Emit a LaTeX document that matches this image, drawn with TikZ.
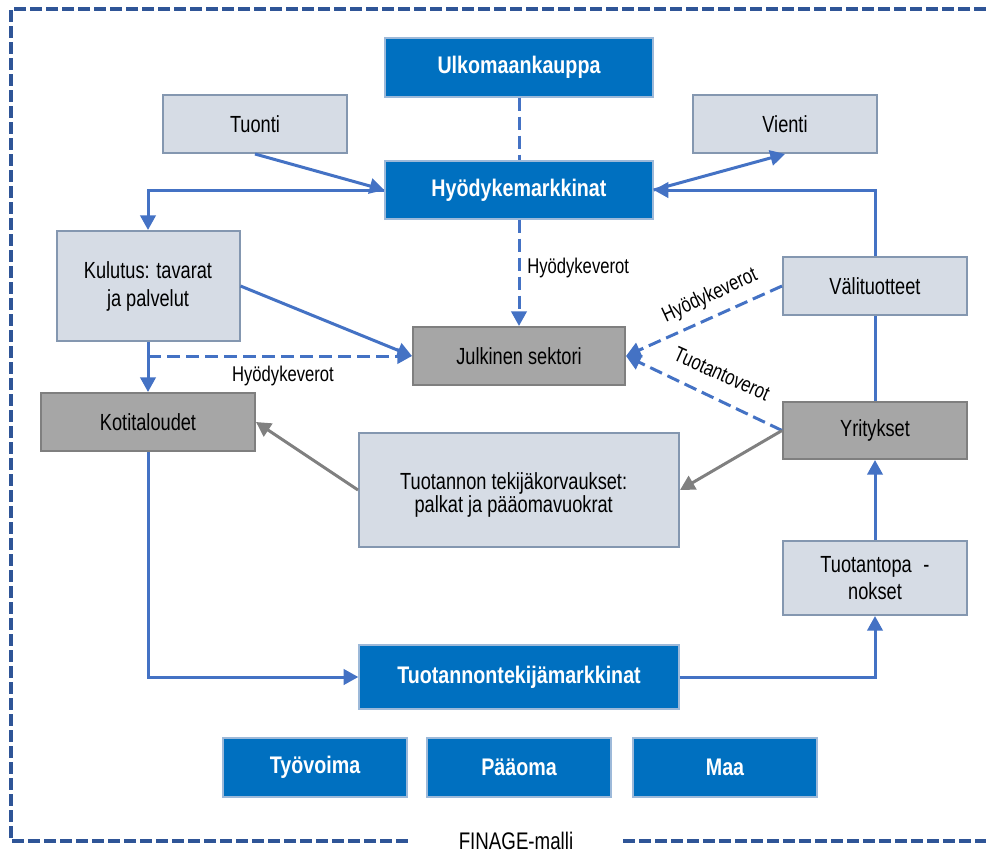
\documentclass[tikz,border=0pt]{standalone}
\usepackage{fontspec}
\setmainfont{Liberation Sans}[FakeStretch=0.78, BoldFont={Liberation Sans Bold}, BoldFeatures={FakeStretch=0.82}]
\usetikzlibrary{arrows.meta}

\definecolor{marketblue}{HTML}{0070C0}
\definecolor{marketedge}{HTML}{9DB9D9}
\definecolor{lightfill}{HTML}{D6DCE5}
\definecolor{lightedge}{HTML}{8497B0}
\definecolor{grayfill}{HTML}{A6A6A6}
\definecolor{grayedge}{HTML}{7F7F7F}
\definecolor{flowblue}{HTML}{4472C4}
\definecolor{flowgray}{HTML}{808080}
\definecolor{frameblue}{HTML}{2F5597}

\tikzset{
  darkbox/.style={draw=marketedge, line width=1pt, fill=marketblue, text=white,
    font=\bfseries\fontsize{18}{21}\selectfont, inner sep=0pt, align=center},
  lightbox/.style={draw=lightedge, line width=1.5pt, fill=lightfill, text=black,
    font=\fontsize{17.5}{21}\selectfont, inner sep=0pt, align=center},
  graybox/.style={draw=grayedge, line width=1.5pt, fill=grayfill, text=black,
    font=\fontsize{17.5}{21}\selectfont, inner sep=0pt, align=center},
  tip/.style={-{Triangle[length=11pt,width=11.5pt]}},
  flow/.style={draw=flowblue, line width=2.25pt, tip},
  plain/.style={draw=flowblue, line width=2.25pt},
  taxflow/.style={flow, dash pattern=on 9.75pt off 4.5pt},
  taxline/.style={plain, dash pattern=on 9.75pt off 4.5pt},
  payflow/.style={draw=flowgray, line width=2.25pt, tip},
  lbl/.style={font=\fontsize{16}{18}\selectfont, inner sep=0pt},
  frame/.style={draw=frameblue, line width=3pt, dash pattern=on 9pt off 3pt}
}

\begin{document}
\begin{tikzpicture}[x=0.75pt, y=-0.75pt]
\useasboundingbox (0,0) rectangle (986,854);

% outer frame with title gap
\coordinate (f1) at (986,9);
\coordinate (f2) at (11,9);
\coordinate (f3) at (11,841);
\coordinate (f4) at (411,841);
\coordinate (f5) at (623,841);
\coordinate (f6) at (986,841);
\draw[frame] (f1) -- (f2) -- (f3) -- (f4);
\draw[frame] (f5) -- (f6);
\node[font=\fontsize{18}{21}\selectfont, inner sep=0pt] (title) at (516,841) {FINAGE-malli};

% boxes
\node[darkbox, minimum width=201pt, minimum height=44.25pt] (ulko) at (519,67.5) {Ulkomaankauppa};
\node[darkbox, minimum width=201pt, minimum height=43.5pt] (hyod) at (519,190) {Hyödykemarkkinat};
\node[lightbox, minimum width=138pt, minimum height=43.5pt] (tuonti) at (255,124) {Tuonti};
\node[lightbox, minimum width=138pt, minimum height=43.5pt] (vienti) at (785,124) {Vienti};
\node[lightbox, minimum width=137.25pt, minimum height=82.5pt] (kulutus) at (148,286) {Kulutus: tavarat\\ja palvelut};
\node[graybox, minimum width=160.5pt, minimum height=43.5pt] (koti) at (148,422) {Kotitaloudet};
\node[graybox, minimum width=159pt, minimum height=43.5pt] (julk) at (519,356) {Julkinen sektori};
\node[lightbox, minimum width=138pt, minimum height=43.5pt] (vali) at (875,286) {Välituotteet};
\node[graybox, minimum width=138pt, minimum height=42.75pt] (yrit) at (875,430.5) {Yritykset};
\node[lightbox, minimum width=240pt, minimum height=85.5pt,
  label={[font=\fontsize{17.5}{15}\selectfont, align=center, inner sep=0pt, xshift=-4pt, yshift=-3.75pt]center:Tuotannon tekijäkorvaukset:\\palkat ja pääomavuokrat}] (korv) at (519,490) {};
\node[lightbox, minimum width=138pt, minimum height=55.5pt, font=\fontsize{17.5}{20.25}\selectfont] (panos) at (875,578) {Tuotantopa\hspace{0.5em}-\\nokset};
\node[darkbox, minimum width=240pt, minimum height=48pt] (tmark) at (519,677) {Tuotannontekijämarkkinat};
\node[darkbox, minimum width=138pt, minimum height=44.25pt] (tyo) at (315,767.5) {Työvoima};
\node[darkbox, minimum width=138pt, minimum height=44.25pt] (paa) at (519,767.5) {Pääoma};
\node[darkbox, minimum width=138pt, minimum height=44.25pt] (maa) at (725,767.5) {Maa};

% goods market flows
\draw[taxline] (ulko.south) -- (hyod.north);
\draw[taxflow] (hyod.south) -- (julk.north);
\node[lbl, anchor=west] (lblhyod) at (527,268) {Hyödykeverot};
\draw[flow] (tuonti.south) -- (hyod.west);
\draw[flow] (hyod.west) -| (kulutus.north);
\draw[flow] (hyod.east) -- (vienti.south);
\draw[flow] (vali.north) |- (hyod.east);

% households
\draw[flow] (kulutus.east) -- (julk.west);
\draw[flow] (kulutus.south) -- (koti.north);
\coordinate (kv) at (kulutus.south |- julk.west);
\draw[taxflow] (kv) -- (julk.west);
\node[lbl] (lblkoti) at (283,376) {Hyödykeverot};

% firms
\draw[taxflow] (vali.west) -- (julk.east);
\node[lbl, rotate=24.8] (lblvali) at (710,296) {Hyödykeverot};
\draw[taxflow] (yrit.west) -- (julk.east);
\node[lbl, rotate=-24.2] (lblyrit) at (722,374) {Tuotantoverot};
\draw[plain] (vali.south) -- (yrit.north);

% factor incomes
\draw[payflow] (yrit.west) -- (korv.east);
\draw[payflow] (korv.west) -- (koti.east);

% factor market
\draw[flow] (koti.south) |- (tmark.west);
\draw[flow] (tmark.east) -| (panos.south);
\draw[flow] (panos.north) -- (yrit.south);
\end{tikzpicture}
\end{document}
